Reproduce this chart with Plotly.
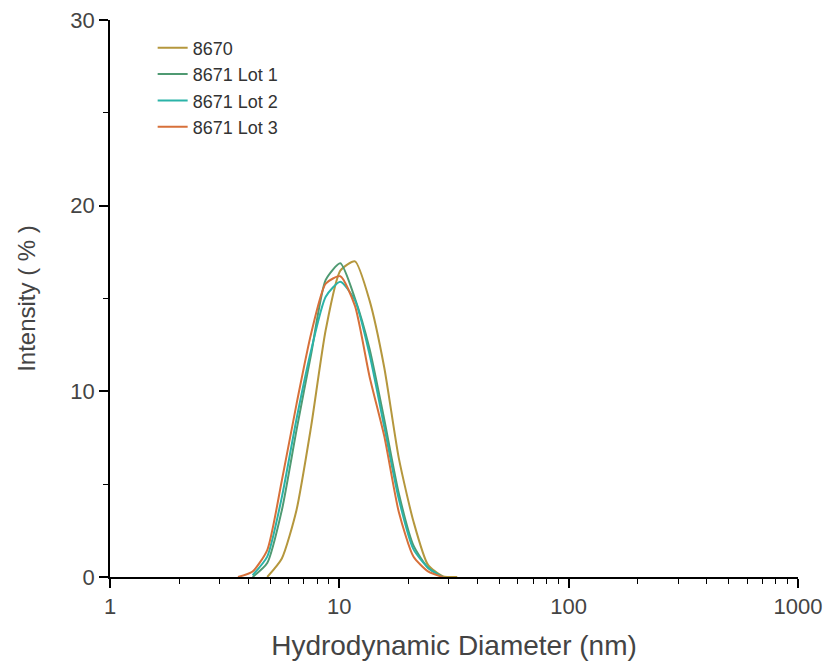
import plotly.graph_objects as go

# Malvern-style size bins (nm)
sizes = [3.615, 4.187, 4.849, 5.615, 6.503, 7.531, 8.721, 10.10, 11.70,
         13.54, 15.69, 18.17, 21.04, 24.36, 28.21, 32.67]

int_8670 = [None, None, 0.0, 1.0, 3.6, 8.1, 13.3, 16.5, 17.0,
            14.9, 11.3, 6.4, 3.0, 0.65, 0.05, 0.0]
int_lot1 = [None, 0.0, 0.75, 3.6, 7.9, 12.0, 16.0, 16.9, 15.0,
            12.3, 8.5, 4.5, 1.7, 0.5, 0.0, None]
int_lot2 = [None, 0.1, 1.1, 4.3, 8.5, 12.2, 15.1, 15.9, 14.9,
            12.0, 8.1, 4.2, 1.5, 0.5, 0.0, None]
int_lot3 = [0.0, 0.3, 1.45, 5.2, 9.3, 13.1, 15.8, 16.2, 14.6,
            10.8, 7.6, 3.5, 1.1, 0.3, 0.0, None]

names = ["8670", "8671 Lot 1", "8671 Lot 2", "8671 Lot 3"]
colors = ["#b5973d", "#4f9a72", "#2bb3a8", "#d7703a"]
series = [int_8670, int_lot1, int_lot2, int_lot3]

x_ticks = [1, 10, 100, 1000]
y_ticks = [0, 10, 20, 30]

fig = go.Figure()
for name, col, vals in zip(names, colors, series):
    xs = [s for s, v in zip(sizes, vals) if v is not None]
    ys = [v for v in vals if v is not None]
    fig.add_trace(go.Scatter(x=xs, y=ys, mode="lines", name=name,
                             line=dict(color=col, width=2, shape="spline", smoothing=0.6)))

font_family = "Liberation Sans, Arial, sans-serif"
fig.update_layout(
    width=825, height=662,
    margin=dict(l=110, r=27, t=20, b=85),
    paper_bgcolor="white", plot_bgcolor="white",
    font=dict(family=font_family, color="#444"),
    showlegend=True,
    legend=dict(x=0.062, y=0.983, xanchor="left", yanchor="top",
                font=dict(size=18, color="#333", family=font_family),
                bgcolor="rgba(0,0,0,0)", tracegroupgap=0, itemwidth=30),
    xaxis=dict(type="log", range=[0, 3], tickvals=x_ticks,
               ticktext=[str(v) for v in x_ticks], automargin=False,
               showline=True, linecolor="black", linewidth=1.5,
               ticks="outside", ticklen=9, tickwidth=1.5, tickcolor="black",
               minor=dict(ticks="outside", ticklen=5, tickwidth=1.2, tickcolor="black", dtick="D1"),
               showgrid=False, zeroline=False,
               tickfont=dict(size=22, color="#444"),
               title=dict(text="Hydrodynamic Diameter (nm)", font=dict(size=28, color="#444"), standoff=17)),
    yaxis=dict(range=[0, 30], tickvals=y_ticks, automargin=False,
               showline=True, linecolor="black", linewidth=1.5,
               ticks="outside", ticklen=9, tickwidth=1.5, tickcolor="black",
               minor=dict(ticks="outside", ticklen=5, tickwidth=1.2, tickcolor="black", dtick=5),
               showgrid=False, zeroline=False,
               tickfont=dict(size=22, color="#444"),
               title=dict(text="Intensity ( % )", font=dict(size=24, color="#444"), standoff=28)),
)

fig.write_html("out.html")
